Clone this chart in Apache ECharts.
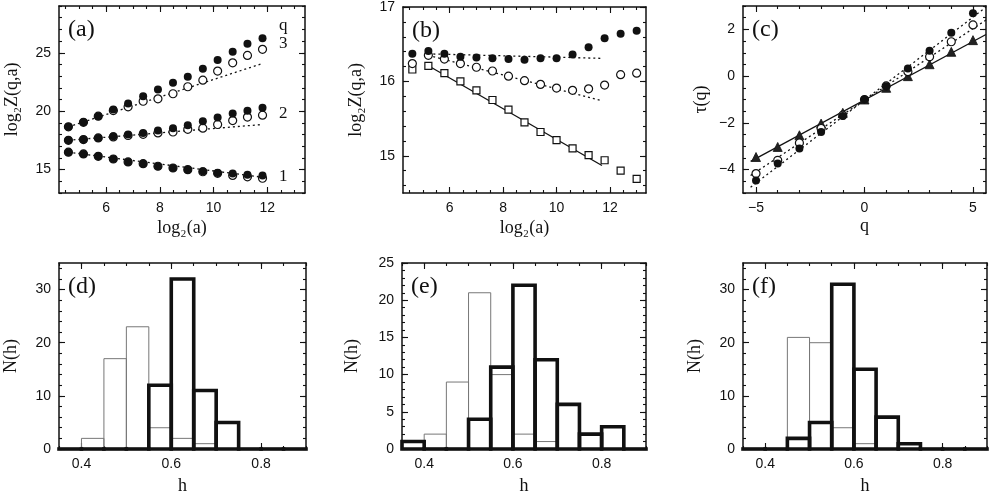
<!DOCTYPE html>
<html><head><meta charset="utf-8">
<script src="https://cdn.jsdelivr.net/npm/echarts@6/dist/echarts.min.js"></script>
<style>html,body{margin:0;padding:0;background:#fff}#c{width:996px;height:497px}</style>
</head><body><div id="c"></div>
<script>
// ---------- Panel (a) ----------
const aX = [4.6, 5.16, 5.71, 6.27, 6.82, 7.38, 7.93, 8.49, 9.04, 9.6, 10.15, 10.71, 11.26, 11.82];
const aQ3Filled = [18.66, 19.05, 19.57, 20.14, 20.65, 21.28, 21.86, 22.43, 22.94, 23.63, 24.37, 25.09, 25.77, 26.23];
const aQ3Open   = [18.66, 19.05, 19.57, 20.05, 20.37, 20.85, 21.06, 21.49, 22.09, 22.65, 23.43, 24.14, 24.77, 25.29];
const aQ2Filled = [17.51, 17.57, 17.71, 17.86, 18.0, 18.14, 18.34, 18.54, 18.8, 19.14, 19.46, 19.8, 20.03, 20.29];
const aQ2Open   = [17.51, 17.57, 17.71, 17.8, 17.92, 18.02, 18.14, 18.22, 18.45, 18.55, 18.86, 19.2, 19.5, 19.66];
const aQ1Filled = [16.49, 16.34, 16.14, 15.91, 15.66, 15.51, 15.29, 15.14, 15.0, 14.86, 14.71, 14.66, 14.57, 14.49];
const aQ1Open   = [16.49, 16.34, 16.14, 15.91, 15.66, 15.51, 15.29, 15.14, 15.0, 14.82, 14.68, 14.5, 14.38, 14.26];
const aFitX = [4.6, 11.82];
const aFitQ3 = [18.66, 24.08];
const aFitQ2 = [17.51, 18.86];
const aFitQ1 = [16.49, 14.35];
const aXTicks = [6, 8, 10, 12];
const aYTicks = [15, 20, 25];
const aQLabels = ['q', '3', '2', '1'];

// ---------- Panel (b) ----------
const bX = [4.6, 5.2, 5.8, 6.4, 7.0, 7.6, 8.2, 8.8, 9.4, 10.0, 10.6, 11.2, 11.8, 12.4, 13.0];
const bFilled = [16.37, 16.41, 16.37, 16.33, 16.32, 16.31, 16.30, 16.29, 16.31, 16.31, 16.36, 16.46, 16.58, 16.64, 16.68];
const bOpen   = [16.24, 16.35, 16.30, 16.24, 16.19, 16.14, 16.07, 16.01, 15.96, 15.91, 15.88, 15.90, 15.95, 16.09, 16.11];
const bSquare = [16.16, 16.21, 16.11, 16.00, 15.88, 15.75, 15.62, 15.45, 15.32, 15.21, 15.10, 15.01, 14.94, 14.80, 14.69];
const bFitX = [5.2, 11.7];
const bFitFilled = [16.37, 16.31];
const bFitOpen = [16.35, 15.74];
const bFitSquare = [16.21, 14.87];
const bXTicks = [6, 8, 10, 12];
const bYTicks = [15, 16, 17];

// ---------- Panel (c) ----------
const cQ = [-5, -4, -3, -2, -1, 0, 1, 2, 3, 4, 5];
const cFilled = [-4.46, -3.74, -3.1, -2.39, -1.71, -1.0, -0.43, 0.33, 1.09, 1.86, 2.69];
const cOpen   = [-4.17, -3.6, -2.86, -2.24, -1.67, -1.0, -0.42, 0.19, 0.83, 1.47, 2.19];
const cTri    = [-3.46, -3.03, -2.53, -2.03, -1.57, -1.0, -0.5, 0.0, 0.51, 1.04, 1.54];
const cFitX = [-5.25, 5.6];
const cFitFilled = [-4.75, 2.95];
const cFitOpen = [-4.25, 2.4];
const cFitTri = [-3.65, 1.78];
const cXTicks = [-5, 0, 5];
const cYTicks = [-4, -2, 0, 2];

// ---------- Panels (d)(e)(f): histograms ----------
const hBinLo = [0.35, 0.40, 0.45, 0.50, 0.55, 0.60, 0.65, 0.70, 0.75, 0.80, 0.85];
const hBinHi = [0.40, 0.45, 0.50, 0.55, 0.60, 0.65, 0.70, 0.75, 0.80, 0.85, 0.90];
const dThin  = [0, 2, 17, 23, 4, 2, 1, 0, 0, 0, 0];
const dThick = [0, 0, 0, 0, 12, 32, 11, 5, 0, 0, 0];
const eThin  = [0, 2, 9, 21, 10, 2, 1, 0, 0, 0, 0];
const eThick = [1, 0, 0, 4, 11, 22, 12, 6, 2, 3, 0];
const fThin  = [0, 0, 21, 20, 4, 1, 0, 0, 0, 0, 0];
const fThick = [0, 0, 2, 5, 31, 15, 6, 1, 0, 0, 0];
const hXTicks = [0.4, 0.6, 0.8];
const dYTicks = [0, 10, 20, 30];
const eYTicks = [0, 5, 10, 15, 20, 25];
const fYTicks = [0, 10, 20, 30];

// ---------- layout ----------
const ink = '#111';
const serif = '"Liberation Serif", "DejaVu Serif", serif';
const sans = '"Liberation Sans", Arial, sans-serif';
const grids = [
  {left: 59, top: 6, width: 246, height: 187},
  {left: 403, top: 7, width: 243, height: 186},
  {left: 743, top: 6, width: 243, height: 187},
  {left: 59, top: 263, width: 247, height: 186},
  {left: 402, top: 263, width: 244, height: 186},
  {left: 743, top: 263, width: 244, height: 186}
];
const panels = [
  {x: [4.25, 13.4], y: [13, 29], xt: aXTicks, yt: aYTicks, xm: 0.5, ym: 1, xName: 'log₂(a)', yName: 'log₂Z(q,a)', xGap: 26, yGap: 38, label: '(a)'},
  {x: [4.25, 13.35], y: [14.5, 17], xt: bXTicks, yt: bYTicks, xm: 0.5, ym: 0.2, xName: 'log₂(a)', yName: 'log₂Z(q,a)', xGap: 26, yGap: 38, label: '(b)'},
  {x: [-5.6, 5.6], y: [-5, 3], xt: cXTicks, yt: cYTicks, xm: 1, ym: 0.5, xName: 'q', yName: 'τ(q)', xGap: 24, yGap: 33, label: '(c)'},
  {x: [0.35, 0.9], y: [0, 35], xt: hXTicks, yt: dYTicks, xm: 0.05, ym: 2, xName: 'h', yName: 'N(h)', xGap: 28, yGap: 39, label: '(d)'},
  {x: [0.35, 0.9], y: [0, 25], xt: hXTicks, yt: eYTicks, xm: 0.05, ym: 1, xName: 'h', yName: 'N(h)', xGap: 28, yGap: 41, label: '(e)'},
  {x: [0.35, 0.9], y: [0, 35], xt: hXTicks, yt: fYTicks, xm: 0.05, ym: 2, xName: 'h', yName: 'N(h)', xGap: 28, yGap: 39, label: '(f)'}
];

function steps(lo, hi, st) {
  const out = [];
  const k0 = Math.ceil(lo / st - 1e-9), k1 = Math.floor(hi / st + 1e-9);
  for (let k = k0; k <= k1; k++) out.push(+(k * st).toFixed(6));
  return out;
}
const fmt = v => String(v).replace('-', '\u2212');

const xAxes = [], yAxes = [];
panels.forEach((p, i) => {
  const lineS = {show: true, onZero: false, lineStyle: {color: ink, width: 1.5}};
  const noLine = {show: false, onZero: false};
  const tickS = (vals, len) => ({show: true, inside: true, length: len, customValues: vals, lineStyle: {color: ink, width: 1.1}});
  const nameStyle = {fontFamily: serif, fontSize: 18, color: ink};
  const labelS = (m) => ({show: true, margin: m, fontFamily: sans, fontSize: 14, color: ink, formatter: fmt});
  const cx = {gridIndex: i, type: 'value', min: p.x[0], max: p.x[1], splitLine: {show: false}};
  const cy = {gridIndex: i, type: 'value', min: p.y[0], max: p.y[1], splitLine: {show: false}};
  const xMinor = steps(p.x[0], p.x[1], p.xm), yMinor = steps(p.y[0], p.y[1], p.ym);
  xAxes.push({...cx, position: 'bottom', axisLine: lineS, axisTick: tickS(p.xt, 6),
    axisLabel: {...labelS(8), customValues: p.xt},
    name: p.xName, nameLocation: 'middle', nameGap: p.xGap, nameTextStyle: nameStyle});
  xAxes.push({...cx, position: 'bottom', axisLine: noLine, axisTick: tickS(xMinor, 3), axisLabel: {show: false}});
  xAxes.push({...cx, position: 'top', axisLine: lineS, axisTick: tickS(p.xt, 6), axisLabel: {show: false}});
  xAxes.push({...cx, position: 'top', axisLine: noLine, axisTick: tickS(xMinor, 3), axisLabel: {show: false}});
  yAxes.push({...cy, position: 'left', axisLine: lineS, axisTick: tickS(p.yt, 6),
    axisLabel: {...labelS(8), customValues: p.yt},
    name: p.yName, nameLocation: 'middle', nameGap: p.yGap, nameTextStyle: nameStyle});
  yAxes.push({...cy, position: 'left', axisLine: noLine, axisTick: tickS(yMinor, 3), axisLabel: {show: false}});
  yAxes.push({...cy, position: 'right', axisLine: lineS, axisTick: tickS(p.yt, 6), axisLabel: {show: false}});
  yAxes.push({...cy, position: 'right', axisLine: noLine, axisTick: tickS(yMinor, 3), axisLabel: {show: false}});
});

const zip = (xs, ys) => xs.map((x, k) => [x, ys[k]]);
const styles = {
  filled: {symbol: 'circle', symbolSize: 8, itemStyle: {color: ink, opacity: 1}},
  open: {symbol: 'circle', symbolSize: 8, itemStyle: {color: '#fff', borderColor: ink, borderWidth: 1.2, opacity: 1}},
  square: {symbol: 'rect', symbolSize: 7, itemStyle: {color: '#fff', borderColor: ink, borderWidth: 1.2, opacity: 1}},
  tri: {symbol: 'triangle', symbolSize: 9, itemStyle: {color: '#222', borderColor: ink, borderWidth: 0.8, opacity: 1}}
};
function sc(i, xs, ys, kind) {
  return {type: 'scatter', xAxisIndex: 4 * i, yAxisIndex: 4 * i, data: zip(xs, ys), ...styles[kind], z: 3};
}
function fit(i, xs, ys, dashed) {
  return {type: 'line', xAxisIndex: 4 * i, yAxisIndex: 4 * i, data: zip(xs, ys), symbol: 'none', z: 2,
    lineStyle: {color: ink, width: 1.3, type: dashed ? [2, 3] : 'solid'}};
}
function hist(i, counts, thick) {
  const lw = thick ? 3.6 : 1;
  const col = thick ? ink : '#777';
  return {type: 'custom', xAxisIndex: 4 * i, yAxisIndex: 4 * i, clip: false, z: thick ? 3 : 2,
    data: hBinLo.map((lo, k) => [lo, hBinHi[k], counts[k]]),
    encode: {x: [0, 1], y: 2},
    renderItem: (params, api) => {
      const a = api.coord([api.value(0), 0]);
      const b = api.coord([api.value(1), api.value(2)]);
      if (api.value(2) === 0) {
        if (!thick) return null;
        // zero-count bin: only the baseline stroke is visible
        return {type: 'rect', shape: {x: a[0] - lw / 2, y: a[1] - lw / 2, width: b[0] - a[0] + lw, height: lw},
          style: {fill: col, stroke: null}};
      }
      return {type: 'rect', shape: {x: a[0], y: b[1], width: b[0] - a[0], height: a[1] - b[1]},
        style: {fill: null, stroke: col, lineWidth: lw, lineJoin: 'miter'}};
    }};
}

const series = [
  fit(0, aFitX, aFitQ3, true), fit(0, aFitX, aFitQ2, true), fit(0, aFitX, aFitQ1, true),
  sc(0, aX, aQ3Open, 'open'), sc(0, aX, aQ2Open, 'open'), sc(0, aX, aQ1Open, 'open'),
  sc(0, aX, aQ3Filled, 'filled'), sc(0, aX, aQ2Filled, 'filled'), sc(0, aX, aQ1Filled, 'filled'),
  fit(1, bFitX, bFitFilled, true), fit(1, bFitX, bFitOpen, true), fit(1, bFitX, bFitSquare, false),
  sc(1, bX, bSquare, 'square'), sc(1, bX, bOpen, 'open'), sc(1, bX, bFilled, 'filled'),
  fit(2, cFitX, cFitFilled, true), fit(2, cFitX, cFitOpen, true), fit(2, cFitX, cFitTri, false),
  sc(2, cQ, cTri, 'tri'), sc(2, cQ, cOpen, 'open'), sc(2, cQ, cFilled, 'filled'),
  hist(3, dThin, false), hist(3, dThick, true),
  hist(4, eThin, false), hist(4, eThick, true),
  hist(5, fThin, false), hist(5, fThick, true)
];

const graphic = panels.map((p, i) => ({type: 'text', left: grids[i].left + 9, top: grids[i].top + 12,
  style: {text: p.label, font: '24px ' + serif, fill: ink}}));
const qTops = [17, 35, 105, 168];
aQLabels.forEach((t, k) => graphic.push({type: 'text', left: grids[0].left + 220, top: qTops[k],
  style: {text: t, font: '17px ' + serif, fill: ink}}));

const chart = echarts.init(document.getElementById('c'), null, {renderer: 'canvas'});
chart.setOption({
  animation: false,
  backgroundColor: '#fff',
  grid: grids.map(g => ({...g, containLabel: false})),
  xAxis: xAxes,
  yAxis: yAxes,
  series: series,
  graphic: graphic
});
</script>
</body></html>
